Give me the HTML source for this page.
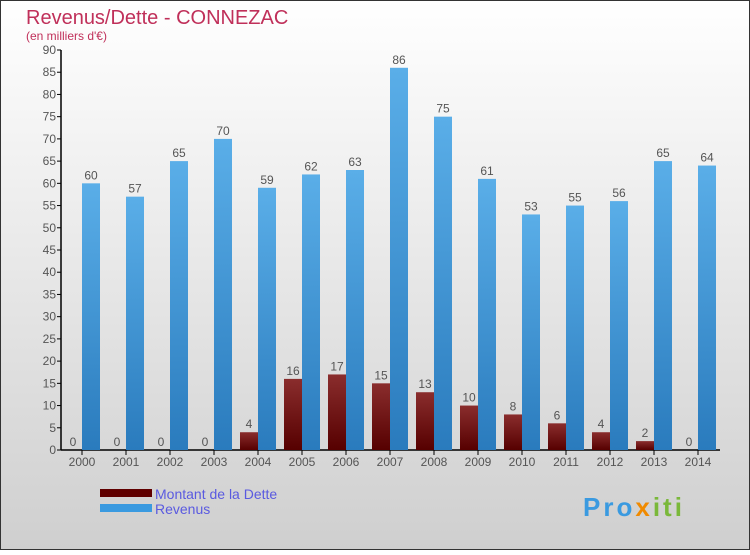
<!DOCTYPE html>
<html><head><meta charset="utf-8"><style>
body{margin:0;width:750px;height:550px;overflow:hidden;font-family:"Liberation Sans",sans-serif}
</style></head><body>
<svg width="750" height="550" xmlns="http://www.w3.org/2000/svg">
<defs>
<linearGradient id="bg" x1="0" y1="0" x2="0" y2="1"><stop offset="0" stop-color="#ffffff"/><stop offset="1" stop-color="#cfcfcf"/></linearGradient>
<linearGradient id="gr" x1="0" y1="0" x2="0" y2="1"><stop offset="0" stop-color="#5aaee8"/><stop offset="1" stop-color="#2a7bbd"/></linearGradient>
<linearGradient id="gd" x1="0" y1="0" x2="0" y2="1"><stop offset="0" stop-color="#8a2d2d"/><stop offset="1" stop-color="#560000"/></linearGradient>
</defs>
<rect x="0.5" y="0.5" width="749" height="549" fill="url(#bg)" stroke="#333"/>
<text x="26" y="24" font-size="20" fill="#c0305a">Revenus/Dette - CONNEZAC</text>
<text x="26" y="40" font-size="12" fill="#c0305a">(en milliers d'€)</text>
<g id="plot"></g>
<g>
<rect x="100" y="489" width="52" height="8" fill="#600000"/>
<rect x="100" y="504" width="52" height="8" fill="#3a9ae0"/>
<text x="155" y="499" font-size="14" fill="#5a5ae0">Montant de la Dette</text>
<text x="155" y="514" font-size="14" fill="#5a5ae0">Revenus</text>
</g>
<text x="583" y="516" font-size="26" font-weight="bold" letter-spacing="3" fill="#3a9ae0">Pro<tspan fill="#f08a00">x</tspan><tspan fill="#7ab83a">iti</tspan></text>
</svg>
<script>
const years=["2000","2001","2002","2003","2004","2005","2006","2007","2008","2009","2010","2011","2012","2013","2014"];
const dette=[0,0,0,0,4,16,17,15,13,10,8,6,4,2,0];
const revenus=[60,57,65,70,59,62,63,86,75,61,53,55,56,65,64];
const yTicks=[0,5,10,15,20,25,30,35,40,45,50,55,60,65,70,75,80,85,90];
const NS="http://www.w3.org/2000/svg";
const g=document.getElementById('plot');
const y=v=>450-v*400/90;
const x=i=>82+i*44;
function el(t,a,txt){const e=document.createElementNS(NS,t);for(const k in a)e.setAttribute(k,a[k]);if(txt!==undefined)e.textContent=txt;g.appendChild(e);return e;}
let e=el('line',{x1:61,y1:50,x2:61,y2:450,stroke:'#000','stroke-width':1.5});


e=el('line',{x1:61,y1:450,x2:720,y2:450,stroke:'#000','stroke-width':1.5});


yTicks.forEach(v=>{
 e=el('line',{x1:57,y1:y(v),x2:61,y2:y(v),stroke:'#000'});
 
 
 e=el('text',{x:56,y:y(v)+4,'font-size':12,fill:'#555','text-anchor':'end'},v);
 
 
});
years.forEach((yr,i)=>{
 const c=x(i);
 e=el('line',{x1:c,y1:450,x2:c,y2:455,stroke:'#000'});
 
 
 e=el('text',{x:c,y:466,'font-size':12,fill:'#555','text-anchor':'middle'},yr);
 
 
 const d=dette[i];
 e=el('rect',{x:c-18,y:y(d),width:18,height:450-y(d),fill:'url(#gd)'});
 
 
 e=el('text',{x:c-9,y:y(d)-4,'font-size':12,fill:'#555','text-anchor':'middle'},d);
 
 
 const r=revenus[i];
 e=el('rect',{x:c,y:y(r),width:18,height:450-y(r),fill:'url(#gr)'});
 
 
 e=el('text',{x:c+9,y:y(r)-4,'font-size':12,fill:'#555','text-anchor':'middle'},r);
 
 
});
</script>
</body></html>
